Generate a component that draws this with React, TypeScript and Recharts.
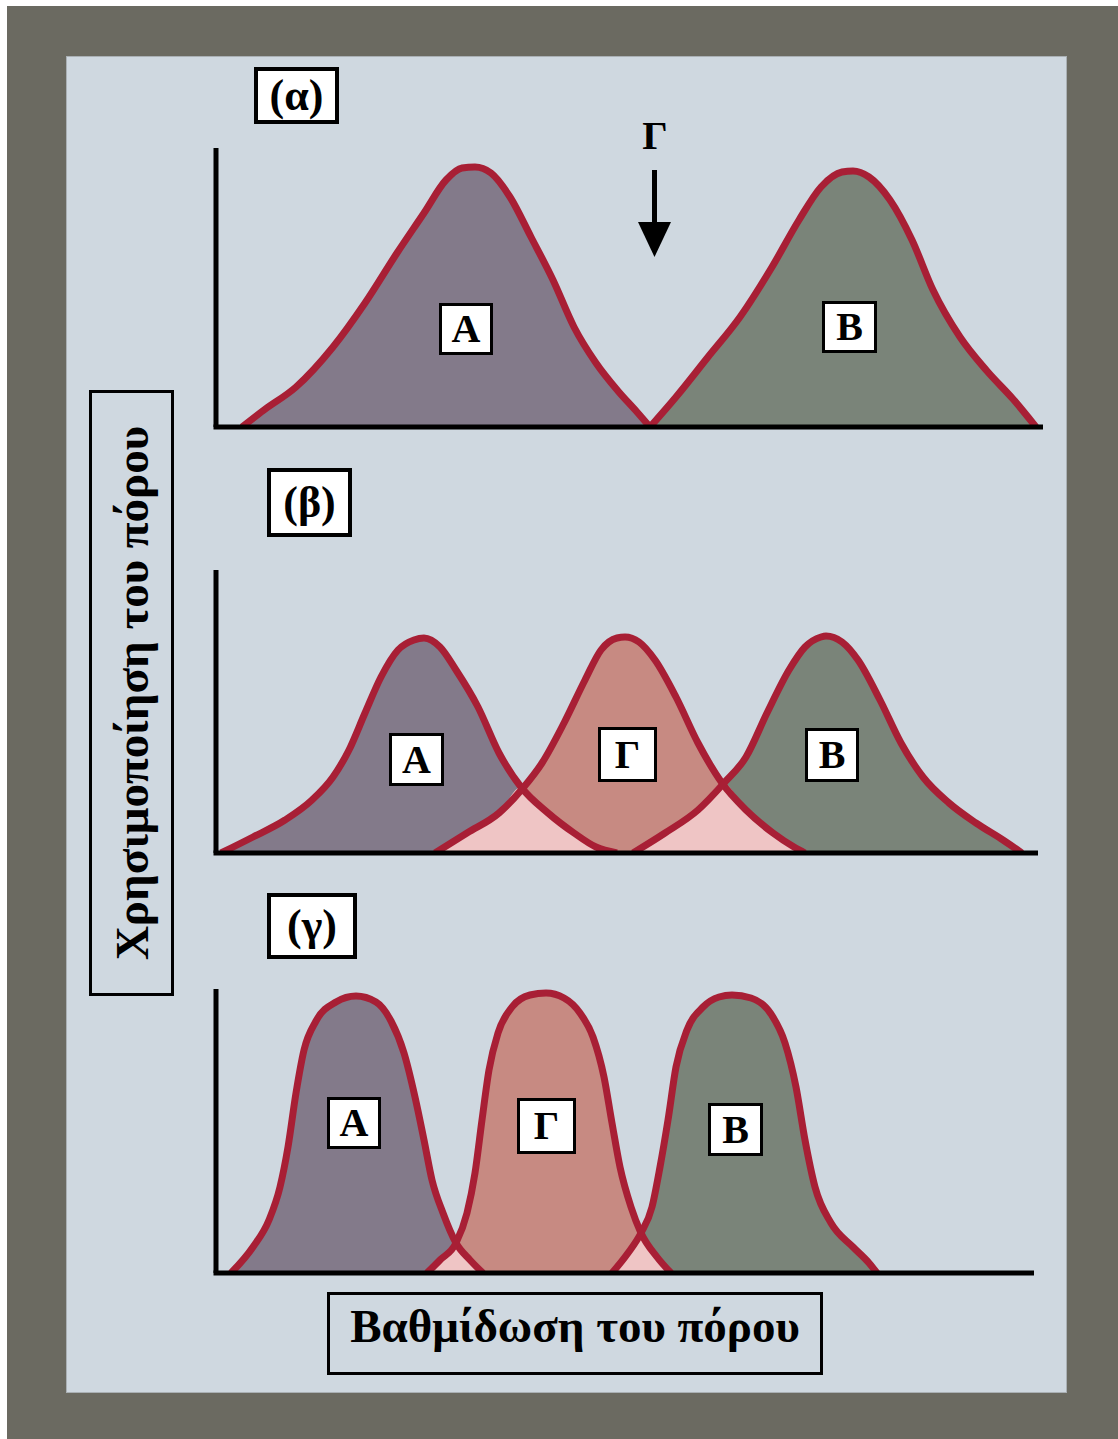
import { ComposedChart, Area, Line, XAxis, YAxis, ReferenceLine } from "recharts";

type Pt = [number, number];

// (α) two separate populations, A and B — x / y measured from the axes corner
const alphaA: Pt[] = [
  [26, 0], [48, 17], [80, 40], [117, 80], [149, 124], [181, 174], [208, 214], [230, 247],
  [246, 259], [259, 260], [275, 254], [294, 230], [315, 190], [337, 147], [358, 100],
  [380, 64], [402, 36], [421, 15], [434, 0],
];
const alphaB: Pt[] = [
  [434, 0], [460, 30], [492, 70], [524, 110], [556, 160], [583, 207], [605, 240], [626, 255],
  [637, 256], [653, 250], [674, 227], [696, 187], [717, 137], [744, 90], [771, 56],
  [797, 28], [820, 0],
];

// (β) a third population Γ between A and B
const betaA: Pt[] = [
  [5, 0], [37, 16], [69, 33], [96, 53], [117, 76], [133, 103], [149, 140], [165, 176],
  [182, 203], [198, 213], [208, 215], [224, 206], [240, 183], [262, 146], [283, 100],
  [305, 66], [332, 40], [358, 20], [380, 6], [401, 0],
];
const betaG: Pt[] = [
  [219, 0], [251, 20], [283, 40], [307, 65], [326, 90], [348, 130], [369, 173], [385, 203],
  [401, 215], [409, 216], [423, 211], [439, 193], [460, 156], [482, 110], [506, 70],
  [530, 43], [557, 20], [578, 6], [589, 0],
];
const betaB: Pt[] = [
  [417, 0], [449, 20], [482, 43], [508, 70], [530, 96], [551, 140], [573, 183], [589, 206],
  [605, 216], [610, 217], [626, 211], [642, 193], [664, 153], [685, 110], [707, 76],
  [733, 50], [760, 30], [787, 13], [806, 0],
];
const betaCross: Pt[] = [[305, 66], [507, 70]];

// (γ) narrower populations A, Γ, B
const gammaA: Pt[] = [
  [15, 0], [37, 26], [53, 53], [64, 86], [72, 126], [80, 180], [88, 223], [100, 252],
  [120, 271], [140, 277], [160, 271], [175, 252], [188, 220], [199, 176], [208, 133],
  [216, 93], [227, 60], [240, 30], [254, 13], [267, 0],
];
const gammaG: Pt[] = [
  [211, 0], [224, 13], [240, 30], [251, 60], [259, 100], [266, 153], [273, 203], [282, 240],
  [296, 266], [314, 278], [330, 280], [348, 275], [364, 260], [377, 236], [388, 196],
  [396, 150], [404, 106], [415, 66], [425, 40], [441, 16], [455, 0],
];
const gammaB: Pt[] = [
  [396, 0], [412, 20], [425, 40], [436, 66], [444, 106], [452, 153], [460, 206], [471, 243],
  [487, 266], [503, 276], [516, 278], [535, 275], [555, 259], [569, 230], [580, 186],
  [589, 133], [599, 86], [615, 50], [637, 26], [653, 10], [661, 0],
];
const gammaCross: Pt[] = [[240, 30], [425, 40]];

const BG_OUTER = "#6b6a61";
const BG_PANEL = "#cfd8e0";
const RED = "#a81f35";
const FILL_A = "#837a8a";
const FILL_G = "#c78a82";
const FILL_B = "#7a8479";
const FILL_OVER = "#efc5c5";
const SERIF = '"Liberation Serif", "DejaVu Serif", "Times New Roman", serif';

const AXIS_X = 216;
const M = 12;

const toRows = (pts: Pt[]) => pts.map(([x, y]) => ({ x, y }));

// lower envelope under the crossing of two neighbouring curves
const overlap = (left: Pt[], right: Pt[], cross: Pt) => {
  const cx = cross[0];
  return toRows([
    ...right.filter(([x]) => x < cx),
    cross,
    ...left.filter(([x]) => x > cx),
  ]);
};

interface Curve {
  pts: Pt[];
  fill: string;
}

interface PanelProps {
  top: number;
  bottom: number;
  right: number;
  curves: Curve[];
  overlaps?: { x: number; y: number }[][];
}

const Panel = ({ top, bottom, right, curves, overlaps = [] }: PanelProps) => {
  const w = right - AXIS_X;
  const h = bottom - top;
  return (
    <div style={{ position: "absolute", left: AXIS_X - M, top: top - M }}>
      <ComposedChart width={w + 2 * M} height={h + 2 * M} margin={{ top: M, right: M, bottom: M, left: M }}>
        <XAxis type="number" dataKey="x" domain={[0, w]} hide allowDataOverflow />
        <YAxis type="number" domain={[0, h]} hide allowDataOverflow />
        {curves.map((c, i) => (
          <Area key={`f${i}`} data={toRows(c.pts)} dataKey="y" type="monotone" fill={c.fill} fillOpacity={1} stroke="none" isAnimationActive={false} />
        ))}
        {overlaps.map((o, i) => (
          <Area key={`o${i}`} data={o} dataKey="y" type="monotone" fill={FILL_OVER} fillOpacity={1} stroke="none" isAnimationActive={false} />
        ))}
        {curves.map((c, i) => (
          <Line key={`s${i}`} data={toRows(c.pts)} dataKey="y" type="monotone" stroke={RED} strokeWidth={7} dot={false} activeDot={false} isAnimationActive={false} />
        ))}
        {/* axes as plain strokes, meeting at the corner */}
        <ReferenceLine segment={[{ x: -2.5, y: 0 }, { x: w, y: 0 }]} stroke="#000" strokeWidth={5} ifOverflow="visible" />
        <ReferenceLine segment={[{ x: 0, y: 0 }, { x: 0, y: h }]} stroke="#000" strokeWidth={5} ifOverflow="visible" />
      </ComposedChart>
    </div>
  );
};

const Box = ({ l, t, r, b, text, size = 40, border = 3 }: { l: number; t: number; r: number; b: number; text: string; size?: number; border?: number }) => (
  <div
    style={{
      position: "absolute",
      left: l,
      top: t,
      width: r - l,
      height: b - t,
      boxSizing: "border-box",
      border: `${border}px solid #000`,
      background: "#fff",
      display: "flex",
      alignItems: "center",
      justifyContent: "center",
      fontFamily: SERIF,
      fontWeight: "bold",
      fontSize: size,
      lineHeight: 1,
    }}
  >
    {text}
  </div>
);

export default function App() {
  return (
    <div style={{ position: "absolute", left: 0, top: 0, width: 1118, height: 1439, background: "#fff" }}>
      <div style={{ position: "absolute", left: 7, top: 6, right: 0, bottom: 0, background: BG_OUTER }} />
      <div style={{ position: "absolute", left: 67, top: 57, width: 999, height: 1335, background: BG_PANEL, boxShadow: "0 0 0 1px #aab0b4" }} />

      <Panel top={148} bottom={427} right={1043} curves={[{ pts: alphaA, fill: FILL_A }, { pts: alphaB, fill: FILL_B }]} />
      <Panel
        top={570}
        bottom={853}
        right={1038}
        curves={[{ pts: betaA, fill: FILL_A }, { pts: betaG, fill: FILL_G }, { pts: betaB, fill: FILL_B }]}
        overlaps={[overlap(betaA, betaG, betaCross[0]), overlap(betaG, betaB, betaCross[1])]}
      />
      <Panel
        top={989}
        bottom={1273}
        right={1034}
        curves={[{ pts: gammaA, fill: FILL_A }, { pts: gammaG, fill: FILL_G }, { pts: gammaB, fill: FILL_B }]}
        overlaps={[overlap(gammaA, gammaG, gammaCross[0]), overlap(gammaG, gammaB, gammaCross[1])]}
      />

      {/* panel tags */}
      <Box l={254} t={67} r={339} b={124} text="(α)" size={44} border={4} />
      <Box l={267} t={468} r={352} b={537} text="(β)" size={44} border={4} />
      <Box l={267} t={893} r={357} b={959} text="(γ)" size={44} border={4} />

      {/* curve labels */}
      <Box l={439} t={303} r={493} b={355} text="Α" />
      <Box l={822} t={301} r={877} b={353} text="Β" />
      <Box l={389} t={733} r={444} b={786} text="Α" />
      <Box l={598} t={727} r={657} b={782} text="Γ" />
      <Box l={805} t={728} r={859} b={782} text="Β" />
      <Box l={327} t={1097} r={381} b={1149} text="Α" />
      <Box l={517} t={1098} r={576} b={1154} text="Γ" />
      <Box l={708} t={1103} r={763} b={1156} text="Β" />

      {/* arrow marking Γ between A and B */}
      <div style={{ position: "absolute", left: 630, top: 116, width: 50, fontFamily: SERIF, fontWeight: "bold", fontSize: 40, lineHeight: 1, textAlign: "center" }}>Γ</div>
      <svg style={{ position: "absolute", left: 630, top: 165 }} width={50} height={100}>
        <line x1={24.5} y1={5} x2={24.5} y2={60} stroke="#000" strokeWidth={5} />
        <polygon points="8,57 41,57 24.5,92" fill="#000" />
      </svg>

      {/* axis titles */}
      <div
        style={{
          position: "absolute",
          left: 89,
          top: 390,
          width: 85,
          height: 606,
          boxSizing: "border-box",
          border: "3px solid #000",
        }}
      >
        <div
          style={{
            position: "absolute",
            left: "50%",
            top: "50%",
            transform: "translate(-50%, -50%) rotate(-90deg)",
            whiteSpace: "nowrap",
            fontFamily: SERIF,
            fontWeight: "bold",
            fontSize: 47,
            lineHeight: 1,
          }}
        >
          Χρησιμοποίηση του πόρου
        </div>
      </div>
      <div
        style={{
          position: "absolute",
          left: 327,
          top: 1292,
          width: 496,
          height: 83,
          boxSizing: "border-box",
          border: "3px solid #000",
          display: "flex",
          justifyContent: "center",
          paddingTop: 8,
          fontFamily: SERIF,
          fontWeight: "bold",
          fontSize: 47,
          lineHeight: 1,
        }}
      >
        Βαθμίδωση του πόρου
      </div>
    </div>
  );
}
